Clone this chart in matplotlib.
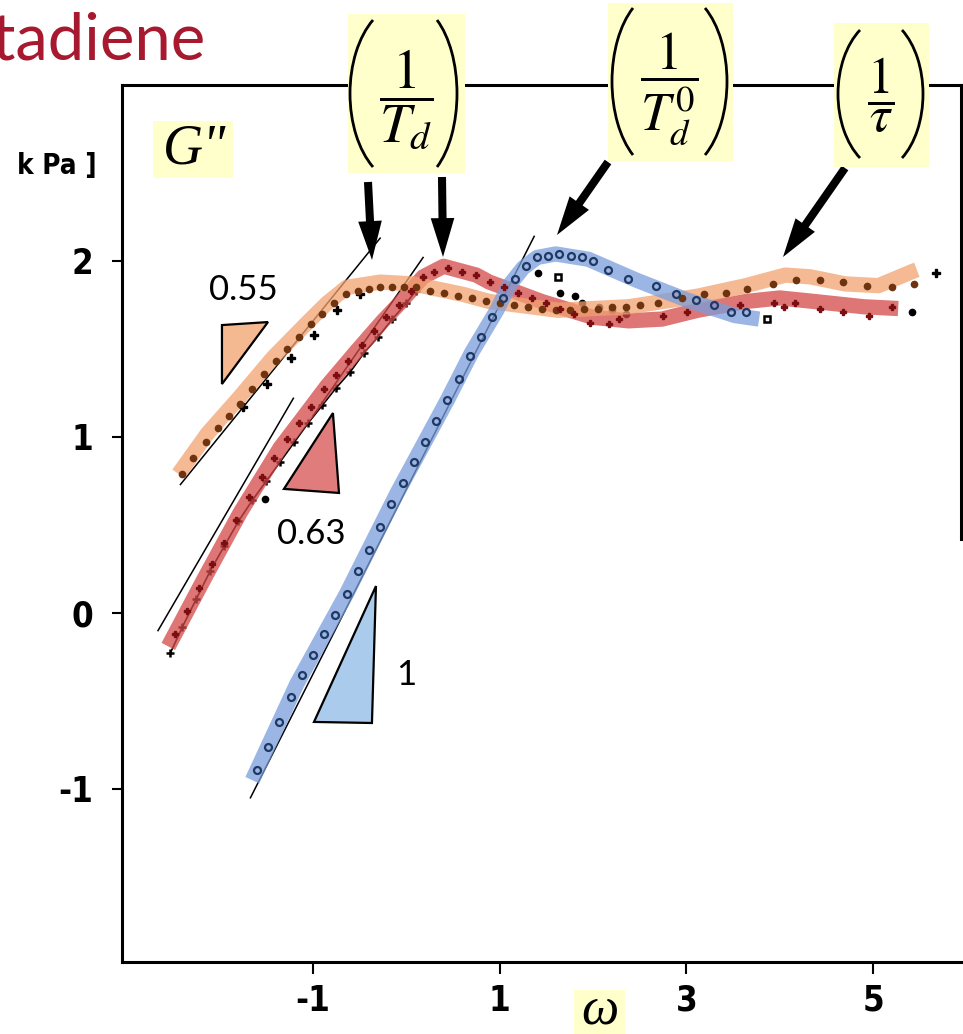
import matplotlib
matplotlib.use("Agg")
import math
import matplotlib.pyplot as plt
from matplotlib import font_manager as fm
from matplotlib.patches import Polygon, Rectangle, Arc

plt.rcParams['mathtext.fontset'] = 'stix'
plt.rcParams['axes.unicode_minus'] = False

# ---------------- data ----------------
# highlighted bands (centre lines)
orange_band_x = [-2.44, -2.13, -1.78, -1.43, -1.06, -0.85, -0.64, -0.28, 0.07, 0.61, 0.89, 1.63, 2.38, 3.12, 3.64, 4.06, 4.33, 4.70, 5.06, 5.42, 5.47]
orange_band_y = [0.79, 1.02, 1.23, 1.45, 1.65, 1.76, 1.85, 1.88, 1.87, 1.81, 1.77, 1.72, 1.74, 1.80, 1.86, 1.92, 1.91, 1.87, 1.86, 1.94, 1.95]
red_band_x = [-2.55, -2.17, -1.78, -1.35, -1.12, -0.85, -0.53, -0.25, -0.07, 0.18, 0.40, 0.75, 0.89, 1.45, 2.00, 2.38, 2.74, 3.12, 3.64, 4.00, 4.37, 4.90, 5.27]
red_band_y = [-0.19, 0.19, 0.57, 0.94, 1.10, 1.29, 1.49, 1.66, 1.76, 1.91, 1.97, 1.92, 1.88, 1.77, 1.68, 1.66, 1.67, 1.72, 1.77, 1.79, 1.77, 1.74, 1.73]
blue_band_x = [-1.65, -1.17, -0.64, -0.10, 0.44, 0.70, 0.97, 1.10, 1.25, 1.40, 1.60, 1.95, 2.47, 3.00, 3.52, 3.78]
blue_band_y = [-0.95, -0.40, 0.11, 0.68, 1.21, 1.48, 1.72, 1.86, 1.96, 2.02, 2.04, 2.01, 1.89, 1.78, 1.69, 1.67]

# measured points
orange_x = [-2.40, -2.28, -2.15, -2.02, -1.90, -1.78, -1.65, -1.52, -1.40, -1.28, -1.15, -1.02, -0.90, -0.78, -0.65, -0.52, -0.40, -0.28, -0.15, -0.02, 0.10, 0.25, 0.40, 0.55, 0.70, 0.85, 1.00, 1.15, 1.30, 1.45, 1.60, 1.75, 1.90, 2.05, 2.20, 2.35, 2.50, 2.70, 2.95, 3.19, 3.43, 3.65, 3.93, 4.17, 4.43, 4.68, 4.94, 5.20, 5.44]
orange_y = [0.79, 0.88, 0.97, 1.05, 1.12, 1.19, 1.27, 1.36, 1.43, 1.50, 1.57, 1.64, 1.70, 1.76, 1.81, 1.83, 1.84, 1.85, 1.85, 1.85, 1.85, 1.83, 1.82, 1.80, 1.79, 1.77, 1.76, 1.75, 1.74, 1.73, 1.72, 1.72, 1.73, 1.73, 1.74, 1.74, 1.75, 1.76, 1.79, 1.81, 1.82, 1.84, 1.87, 1.89, 1.89, 1.88, 1.86, 1.85, 1.87]
orange_black_x = [-1.75, -1.49, -1.24, -0.99, -0.74, -0.50, 5.68]
orange_black_y = [1.17, 1.30, 1.45, 1.58, 1.72, 1.81, 1.93]

red_x = [-2.48, -2.35, -2.22, -2.08, -1.95, -1.82, -1.68, -1.55, -1.42, -1.28, -1.15, -1.02, -0.88, -0.75, -0.62, -0.48, -0.35, -0.22, -0.08, 0.05, 0.18, 0.30, 0.45, 0.60, 0.75, 0.90, 1.05, 1.20, 1.35, 1.50, 1.65, 1.80, 1.97, 2.17, 2.28, 2.75, 3.01, 3.57, 3.94, 4.05, 4.16, 4.43, 4.68, 4.96, 5.20]
red_y = [-0.12, 0.01, 0.14, 0.28, 0.40, 0.53, 0.66, 0.77, 0.88, 0.99, 1.08, 1.17, 1.27, 1.35, 1.43, 1.52, 1.60, 1.68, 1.75, 1.83, 1.91, 1.94, 1.96, 1.94, 1.92, 1.88, 1.85, 1.82, 1.79, 1.76, 1.73, 1.70, 1.65, 1.64, 1.67, 1.69, 1.71, 1.75, 1.76, 1.74, 1.76, 1.73, 1.71, 1.69, 1.74]
red_black_x = [-2.53, -2.40, -2.25, -2.10, -1.95, -1.80, -1.65, -1.50, -1.35, -1.20, -1.05, -0.90, -0.75, -0.60, -0.45, -0.30, -0.15, 0.00, 0.10]
red_black_y = [-0.23, -0.08, 0.08, 0.24, 0.38, 0.52, 0.64, 0.75, 0.86, 0.97, 1.08, 1.18, 1.28, 1.37, 1.48, 1.57, 1.67, 1.76, 1.83]
extra_black_x = [-1.51, 1.41, 1.65, 1.81, 1.88, 2.06, 2.20, 2.35, 5.42]
extra_black_y = [0.65, 1.93, 1.82, 1.80, 1.76, 1.74, 1.72, 1.70, 1.71]
square_x = [1.63, 3.86]
square_y = [1.91, 1.67]

blue_x = [-1.60, -1.48, -1.36, -1.24, -1.12, -1.00, -0.88, -0.76, -0.64, -0.52, -0.40, -0.28, -0.16, -0.04, 0.08, 0.20, 0.32, 0.44, 0.56, 0.68, 0.80, 0.92, 1.04, 1.16, 1.28, 1.40, 1.52, 1.64, 1.76, 1.88, 2.00, 2.16, 2.38, 2.67, 2.89, 3.10, 3.30, 3.48, 3.64]
blue_y = [-0.89, -0.76, -0.62, -0.48, -0.35, -0.24, -0.12, -0.01, 0.11, 0.24, 0.36, 0.49, 0.62, 0.74, 0.86, 0.97, 1.09, 1.21, 1.33, 1.46, 1.57, 1.68, 1.79, 1.90, 1.97, 2.02, 2.03, 2.04, 2.03, 2.02, 2.00, 1.95, 1.90, 1.86, 1.81, 1.78, 1.75, 1.71, 1.71]

# straight fit lines (end points)
fit_orange_x = [-2.42, -0.28]
fit_orange_y = [0.73, 2.13]
fit_red_a_x = [-2.66, -1.21]
fit_red_a_y = [-0.10, 1.22]
fit_red_b_x = [-1.00, 0.18]
fit_red_b_y = [1.12, 2.02]
fit_blue_x = [-1.67, 1.37]
fit_blue_y = [-1.05, 2.14]

x_ticks = [-1, 1, 3, 5]
y_ticks = [-1, 0, 1, 2]
slope_labels = ["0.55", "0.63", "1"]


# ---------------- fonts ----------------
def narrow_font(size, weight='bold'):
    cands = [f for f in fm.fontManager.ttflist
             if ('Narrow' in f.name or 'Condensed' in f.name or
                 str(f.stretch) in ('condensed', 'semi-condensed', '75', '87'))
             and 'Mono' not in f.name]
    cands.sort(key=lambda f: (0 if 'Liberation' in f.name else 1 if 'DejaVu' in f.name else 2,
                              0 if f.weight in ('bold', 700) else 1, f.style != 'normal'))
    if cands:
        return fm.FontProperties(fname=cands[0].fname, size=size)
    return fm.FontProperties(family=['Roboto', 'DejaVu Sans'], weight=weight, size=size)


# ---------------- figure ----------------
W, H = 963, 1034
fig = plt.figure(figsize=(W / 100, H / 100), dpi=100)
ax = fig.add_axes([122 / W, 72 / H, 839 / W, 877 / H])
ax.set_xlim(-3.046, 5.943)
ax.set_ylim(-1.983, 3.0)

for s in ['left', 'bottom', 'top', 'right']:
    ax.spines[s].set_linewidth(2.2)
ax.spines['right'].set_bounds(0.42, 3.0)

tick_fp = narrow_font(25)
ax.set_xticks(x_ticks)
ax.set_xticklabels([str(v) for v in x_ticks], fontproperties=tick_fp)
ax.set_yticks(y_ticks)
ax.set_yticklabels([str(v) for v in y_ticks], fontproperties=tick_fp)
ax.tick_params(axis='y', direction='out', length=7.5, width=1.5, pad=13)
ax.tick_params(axis='x', direction='out', length=8.5, width=1.5, pad=7)

# fit lines and black points (below the highlight bands)
lkw = dict(color='black', lw=1.1, zorder=2)
ax.plot(fit_orange_x, fit_orange_y, **lkw)
ax.plot(fit_red_a_x, fit_red_a_y, **lkw)
ax.plot(fit_red_b_x, fit_red_b_y, **lkw)
ax.plot(fit_blue_x, fit_blue_y, **lkw)
ax.plot(red_black_x, red_black_y, color='black', lw=1.2, marker='+', ms=6, mew=1.8, zorder=2)
ax.plot(orange_black_x, orange_black_y, ls='none', marker='P', ms=6, color='black', zorder=2)
ax.plot(extra_black_x, extra_black_y, ls='none', marker='o', ms=4.5, color='black', zorder=2)
ax.plot(square_x, square_y, ls='none', marker='s', ms=5, mfc='white', mec='black', mew=1.8, zorder=2)

# highlight bands
bkw = dict(lw=11, solid_capstyle='butt', solid_joinstyle='round', alpha=0.75, zorder=3)
ax.plot(red_band_x, red_band_y, color='#D34848', **bkw)
ax.plot(orange_band_x, orange_band_y, color='#F2A270', **bkw)
ax.plot(blue_band_x, blue_band_y, color='#7A9EDC', **bkw)

# points on the bands
ax.plot(orange_x, orange_y, ls='none', marker='o', ms=4.5, color='#6E3410', zorder=4)
ax.plot(red_x, red_y, ls='none', marker='P', ms=5, color='#7A0E10', zorder=4)
ax.plot(blue_x, blue_y, ls='none', marker='o', ms=5, mfc='none', mec='#1F3864', mew=1.6, zorder=4)

# slope triangles
tri_kw = dict(closed=True, ec='black', lw=1.6, zorder=5)
ax.add_patch(Polygon([(-1.975, 1.636), (-1.482, 1.653), (-1.975, 1.301)], fc='#F5B991', **tri_kw))
ax.add_patch(Polygon([(-0.786, 1.136), (-1.311, 0.705), (-0.721, 0.682)], fc='#E07C7C', **tri_kw))
ax.add_patch(Polygon([(-0.325, 0.153), (-0.989, -0.619), (-0.368, -0.625)], fc='#AACBEB', **tri_kw))
lab_font = dict(family=['Lato', 'DejaVu Sans'], size=25, ha='center', va='center', zorder=6)
ax.text(-1.75, 1.835, slope_labels[0], **lab_font)
ax.text(-1.02, 0.449, slope_labels[1], **lab_font)
ax.text(0.0, -0.352, slope_labels[2], **lab_font)


# ---------------- overlay (figure pixel coordinates from top-left) ----------------
def fx(px):
    return px / W


def fy(py):
    return 1 - py / H


def ybox(x0, y0, x1, y1):
    fig.patches.append(Rectangle((fx(x0), fy(y1)), fx(x1) - fx(x0), fy(y0) - fy(y1),
                                 transform=fig.transFigure, fc='#FFFFCC', ec='none', zorder=10))


def paren(xmid, xend, yc, half, phi=55.0):
    """Tall thin bracket drawn as an elliptic arc (pixel coords, top-left origin)."""
    p = math.radians(phi)
    rx = abs(xend - xmid) / (1 - math.cos(p))
    ry = half / math.sin(p)
    te = math.degrees(math.atan2(ry * math.sin(p), rx * math.cos(p)))
    if xend > xmid:      # left bracket
        cx, t1, t2 = xmid + rx, 180 - te, 180 + te
    else:                # right bracket
        cx, t1, t2 = xmid - rx, -te, te
    fig.patches.append(Arc((cx / 100, (H - yc) / 100), 2 * rx / 100, 2 * ry / 100,
                           theta1=t1, theta2=t2, transform=fig.dpi_scale_trans,
                           color='black', lw=2.0, zorder=11))


ybox(348, 14, 465, 173)
ybox(608, 3, 733, 162)
ybox(834, 23, 929, 167)
ybox(153, 121, 233, 178)
ybox(574, 990, 625, 1034)

paren(350, 373, 93.5, 73.5)
paren(457, 437, 93.5, 73.5)
paren(612, 633, 81.5, 73.5)
paren(727, 705, 81.5, 73.5)
paren(838, 860, 94, 64)
paren(923, 902, 94, 64)

fig.text(fx(406), fy(100), r'$\dfrac{1}{T_d}$', fontsize=40, ha='center', va='center', zorder=12)
fig.text(fx(669), fy(89), r'$\dfrac{1}{T_d^0}$', fontsize=38, ha='center', va='center', zorder=12)
fig.text(fx(881), fy(95), r'$\dfrac{1}{\tau}$', fontsize=37, ha='center', va='center', zorder=12)
fig.text(fx(195), fy(150), 'G"', family='Liberation Serif', style='italic', fontsize=40,
         ha='center', va='center', zorder=12)
fig.text(fx(600), fy(1023), '\u03c9', family='Liberation Serif', style='italic', fontsize=38,
         ha='center', va='baseline', zorder=12)

# arrows
arrows = [((368, 182), (372, 260)), ((442, 177), (443, 257)),
          ((608, 162), (557, 235)), ((845, 168), (783, 257))]
for (tx, ty), (hx, hy) in arrows:
    ax.annotate('', xy=(hx, H - hy), xytext=(tx, H - ty), xycoords='figure pixels',
                textcoords='figure pixels', zorder=12, annotation_clip=False,
                arrowprops=dict(arrowstyle='simple,head_length=2.8,head_width=1.7,tail_width=0.58',
                                mutation_scale=10, fc='black', ec='black', lw=0,
                                shrinkA=0, shrinkB=0))

# title fragment and unit fragment
fig.text(fx(205), fy(60), 'Polybutadiene', family=['Lato', 'DejaVu Sans'], fontsize=47,
         color='#A6192E', ha='right', va='baseline')
fig.text(fx(17), fy(166), 'k Pa ]', fontproperties=narrow_font(20), ha='left', va='center')

fig.savefig('out.png', dpi=100)
